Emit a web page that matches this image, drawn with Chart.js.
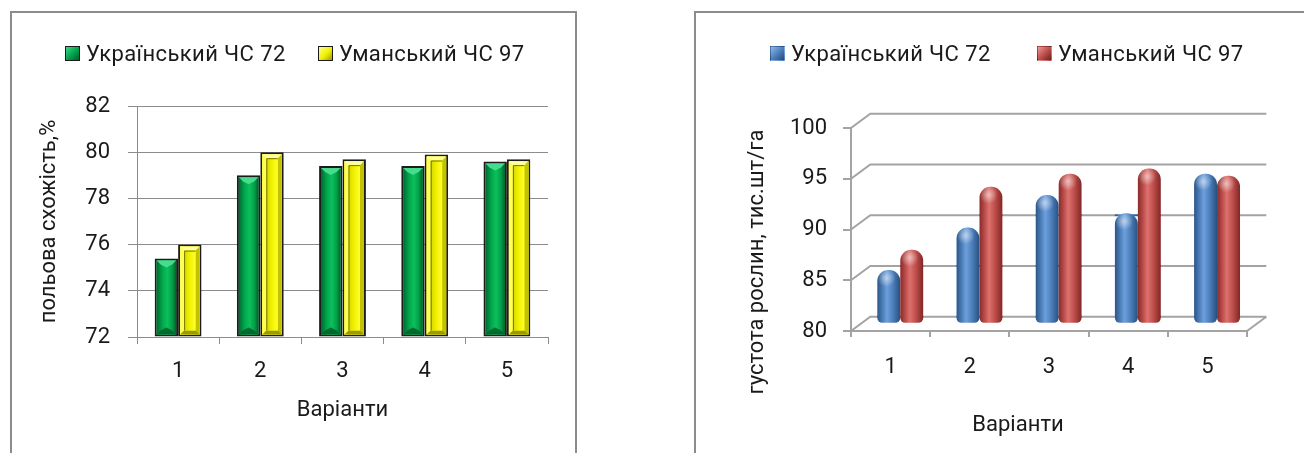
<!DOCTYPE html>
<html lang="uk">
<head>
  <meta charset="UTF-8" />
  <title>Польова схожість і густота рослин</title>
  <script src="https://cdn.jsdelivr.net/npm/chart.js"></script>
  <style>
    body {
      margin: 0;
      width: 1304px;
      height: 453px;
      overflow: hidden;
      position: relative;
      background: #fff;
      font-family: Roboto, sans-serif;
      color: #1a1a1a;
    }
    .frame {
      position: absolute;
      top: 11px;
      height: 470px;
      border: 2px solid #8c8c8c;
      box-sizing: border-box;
    }
    #frameLeft { left: 10px; width: 567px; }
    #frameRight { left: 694px; width: 660px; }

    .chart-box { position: absolute; top: 0; height: 453px; }
    #boxLeft { left: 0; width: 580px; }
    #boxRight { left: 680px; width: 624px; }

    .legend-item {
      position: absolute;
      top: 40px;
      height: 26px;
      display: flex;
      align-items: center;
      font-size: 22px;
      letter-spacing: 0.4px;
      white-space: nowrap;
    }
    .legend-item .key {
      display: inline-block;
      width: 15px;
      height: 15px;
      box-sizing: border-box;
      margin-right: 6px;
    }
  </style>
</head>
<body>
  <div class="frame" id="frameLeft"></div>
  <div class="frame" id="frameRight"></div>

  <div class="chart-box" id="boxLeft"><canvas id="emergenceChart"></canvas></div>
  <div class="chart-box" id="boxRight"><canvas id="densityChart"></canvas></div>

  <div id="legends"></div>

  <script>
    // дані з графіків
    const variants = ['1', '2', '3', '4', '5'];
    const seriesNames = ['Український ЧС 72', 'Уманський ЧС 97'];

    // польова схожість, %
    const emergenceUkr = [75.4, 79.0, 79.4, 79.4, 79.6];
    const emergenceUman = [76.0, 80.0, 79.7, 79.9, 79.7];

    // густота рослин, тис.шт/га
    const densityUkr = [85.3, 89.5, 92.7, 90.9, 94.8];
    const densityUman = [87.3, 93.5, 94.8, 95.3, 94.6];

    Chart.defaults.font.family = 'Roboto, sans-serif';
    Chart.defaults.font.size = 22;
    Chart.defaults.color = '#1a1a1a';

    // html legends
    const legendDefs = [
      { x: [65, 318], bg: ['linear-gradient(135deg,#3fd98a,#00a04a 55%,#005f2b)', 'linear-gradient(135deg,#ffff90,#f0f000 55%,#9c9c00)'], border: '#1a1a1a' },
      { x: [770, 1037], bg: ['linear-gradient(135deg,#8fb6e6,#4f81bd 50%,#24497a)', 'linear-gradient(135deg,#e99a98,#c0504d 50%,#6e2220)'], border: 'transparent' }
    ];
    const legendsDiv = document.getElementById('legends');
    legendDefs.forEach(def => {
      seriesNames.forEach((name, i) => {
        const item = document.createElement('div');
        item.className = 'legend-item';
        item.style.left = def.x[i] + 'px';
        const key = document.createElement('span');
        key.className = 'key';
        key.style.background = def.bg[i];
        key.style.border = '1px solid ' + def.border;
        item.appendChild(key);
        item.appendChild(document.createTextNode(name));
        legendsDiv.appendChild(item);
      });
    });

    // bevel look of the bars on the left chart
    const bevelPlugin = {
      id: 'bevel',
      afterDatasetsDraw(chart) {
        const ctx = chart.ctx;
        chart.data.datasets.forEach((ds, di) => {
          chart.getDatasetMeta(di).data.forEach(bar => {
            const { x, y, base, width } = bar.getProps(['x', 'y', 'base', 'width'], true);
            const l = x - width / 2 + 2, r = x + width / 2 - 2, t = y + 2, b = base - 2;
            const bv = 4;
            ctx.save();
            if (di === 0) {
              const g = ctx.createLinearGradient(l, 0, r, 0);
              g.addColorStop(0, '#006a30');
              g.addColorStop(0.3, '#00a84c');
              g.addColorStop(0.55, '#0dbf5c');
              g.addColorStop(0.8, '#00a048');
              g.addColorStop(1, '#00602b');
              ctx.fillStyle = g;
              ctx.fillRect(l, t, r - l, b - t);
              ctx.fillStyle = '#46dc8e';
              ctx.beginPath();
              ctx.moveTo(l, t); ctx.lineTo(r, t); ctx.lineTo(r - bv, t + bv); ctx.lineTo(x, t + bv + 3); ctx.lineTo(l + bv, t + bv);
              ctx.closePath(); ctx.fill();
              ctx.fillStyle = '#00692f';
              ctx.beginPath();
              ctx.moveTo(l, b); ctx.lineTo(r, b); ctx.lineTo(r - bv, b - bv); ctx.lineTo(x, b - bv - 3); ctx.lineTo(l + bv, b - bv);
              ctx.closePath(); ctx.fill();
            } else {
              ctx.fillStyle = '#f4f400';
              ctx.fillRect(l, t, r - l, b - t);
              // frame facets
              ctx.fillStyle = '#ffff5a';
              ctx.fillRect(l, t, bv, b - t);
              ctx.fillStyle = '#c2c200';
              ctx.fillRect(r - bv, t, bv, b - t);
              ctx.fillStyle = '#ffffa0';
              ctx.beginPath(); ctx.moveTo(l, t); ctx.lineTo(r, t); ctx.lineTo(r - bv, t + bv); ctx.lineTo(l + bv, t + bv); ctx.closePath(); ctx.fill();
              ctx.fillStyle = '#9a9a00';
              ctx.beginPath(); ctx.moveTo(l, b); ctx.lineTo(r, b); ctx.lineTo(r - bv, b - bv); ctx.lineTo(l + bv, b - bv); ctx.closePath(); ctx.fill();
              // inner panel
              const il = l + bv, ir = r - bv, it = t + bv, ib = b - bv;
              const g = ctx.createLinearGradient(il, 0, ir, 0);
              g.addColorStop(0, '#d6d600');
              g.addColorStop(0.5, '#f2f200');
              g.addColorStop(1, '#ffff30');
              ctx.fillStyle = g;
              ctx.fillRect(il, it, ir - il, ib - it);
              ctx.strokeStyle = '#767600';
              ctx.lineWidth = 1;
              ctx.beginPath();
              ctx.moveTo(il + 0.5, ib); ctx.lineTo(il + 0.5, it + 0.5); ctx.lineTo(ir, it + 0.5);
              ctx.stroke();
            }
            ctx.restore();
          });
        });
      }
    };

    new Chart(document.getElementById('emergenceChart'), {
      type: 'bar',
      data: {
        labels: variants,
        datasets: [
          { label: seriesNames[0], data: emergenceUkr, backgroundColor: '#00a84c', borderColor: '#1c1c1c', borderWidth: 2, borderSkipped: false },
          { label: seriesNames[1], data: emergenceUman, backgroundColor: '#f0f000', borderColor: '#1c1c1c', borderWidth: 2, borderSkipped: false }
        ]
      },
      options: {
        responsive: true,
        maintainAspectRatio: false,
        animation: false,
        layout: { padding: { top: 106, right: 32, left: 0, bottom: 0 } },
        datasets: { bar: { categoryPercentage: 0.57, barPercentage: 1, base: 72 } },
        plugins: { legend: { display: false }, tooltip: { enabled: false } },
        scales: {
          x: {
            grid: { drawOnChartArea: false, tickLength: 7, color: '#8c8c8c' },
            border: { color: '#8c8c8c' },
            ticks: { padding: 14 },
            title: { display: true, text: 'Варіанти', padding: { top: 0, bottom: 29 } },
            afterFit(scale) { scale.height = 116; }
          },
          y: {
            min: 72,
            max: 82,
            ticks: { stepSize: 2, padding: 18 },
            grid: { color: '#8c8c8c', tickLength: 9 },
            border: { color: '#8c8c8c' },
            title: { display: true, text: 'польова схожість,%', padding: { top: 36, bottom: 0 } },
            afterFit(scale) { scale.width = 137; }
          }
        }
      },
      plugins: [bevelPlugin]
    });

    // pseudo 3d walls and cylinders on the right chart
    const DX = 19.3, DY = -14.3;
    const wallPlugin = {
      id: 'wall3d',
      beforeDatasetsDraw(chart) {
        const { ctx, chartArea: a, scales: { y } } = chart;
        ctx.save();
        ctx.strokeStyle = '#a3a3a3';
        ctx.lineWidth = 2;
        y.ticks.forEach(t => {
          const py = y.getPixelForValue(t.value);
          ctx.beginPath();
          ctx.moveTo(a.left, py);
          ctx.lineTo(a.left + DX, py + DY);
          ctx.lineTo(a.right + DX, py + DY);
          ctx.stroke();
        });
        ctx.beginPath();
        ctx.moveTo(a.right, a.bottom);
        ctx.lineTo(a.right + DX, a.bottom + DY);
        ctx.stroke();
        ctx.restore();
        // bars stand halfway into the depth
        ctx.save();
        ctx.translate(DX / 2, DY / 2);
      },
      afterDatasetsDraw(chart) {
        const ctx = chart.ctx;
        const shades = [
          ['#2a5486', '#4f81bd', '#6d9fdc', '#4a7cb8', '#27507f'],
          ['#862b29', '#c0504d', '#dc716e', '#bb4b48', '#7e2826']
        ];
        chart.data.datasets.forEach((ds, di) => {
          chart.getDatasetMeta(di).data.forEach(bar => {
            const { x, y, base, width } = bar.getProps(['x', 'y', 'base', 'width'], true);
            const l = x - width / 2;
            ctx.save();
            ctx.globalCompositeOperation = 'source-atop';
            const g = ctx.createLinearGradient(l, 0, l + width, 0);
            const s = shades[di];
            g.addColorStop(0, s[0]);
            g.addColorStop(0.25, s[1]);
            g.addColorStop(0.42, s[2]);
            g.addColorStop(0.7, s[3]);
            g.addColorStop(1, s[4]);
            ctx.fillStyle = g;
            ctx.fillRect(l, y, width, base - y + 1);
            const rg = ctx.createRadialGradient(x - width * 0.1, y + 8, 0, x - width * 0.1, y + 8, 9);
            rg.addColorStop(0, 'rgba(255,255,255,0.55)');
            rg.addColorStop(1, 'rgba(255,255,255,0)');
            ctx.fillStyle = rg;
            ctx.fillRect(l, y, width, 18);
            ctx.restore();
          });
        });
        ctx.restore();
      },
      afterDraw(chart) {
        const ctx = chart.ctx;
        ctx.save();
        ctx.font = '22px Roboto, sans-serif';
        ctx.fillStyle = '#1a1a1a';
        ctx.textAlign = 'center';
        ctx.textBaseline = 'middle';
        ctx.fillText('Варіанти', 338, 425);
        ctx.translate(77, 262);
        ctx.rotate(-Math.PI / 2);
        ctx.fillText('густота рослин, тис.шт/га', 0, 0);
        ctx.restore();
      }
    };

    new Chart(document.getElementById('densityChart'), {
      type: 'bar',
      data: {
        labels: variants,
        datasets: [
          { label: seriesNames[0], data: densityUkr, backgroundColor: '#4f81bd' },
          { label: seriesNames[1], data: densityUman, backgroundColor: '#c0504d' }
        ]
      },
      options: {
        responsive: true,
        maintainAspectRatio: false,
        animation: false,
        layout: { padding: { top: 128, right: 57, left: 0, bottom: 0 } },
        datasets: {
          bar: {
            base: 80,
            categoryPercentage: 0.58,
            barPercentage: 1,
            borderWidth: 0,
            borderSkipped: false,
            borderRadius: { topLeft: 11, topRight: 11, bottomLeft: 5, bottomRight: 5 },
            clip: false
          }
        },
        plugins: { legend: { display: false }, tooltip: { enabled: false } },
        scales: {
          x: {
            grid: { drawOnChartArea: false, tickLength: 6, color: '#a3a3a3', lineWidth: 2 },
            border: { color: '#a3a3a3', width: 2 },
            ticks: { padding: 17 },
            afterFit(scale) { scale.height = 122; }
          },
          y: {
            min: 80,
            max: 100,
            ticks: { stepSize: 5, padding: 16 },
            grid: { drawOnChartArea: false, tickLength: 8, color: '#a3a3a3', lineWidth: 2 },
            border: { color: '#a3a3a3', width: 2 },
            afterFit(scale) { scale.width = 171; }
          }
        }
      },
      plugins: [wallPlugin]
    });
  </script>
</body>
</html>
